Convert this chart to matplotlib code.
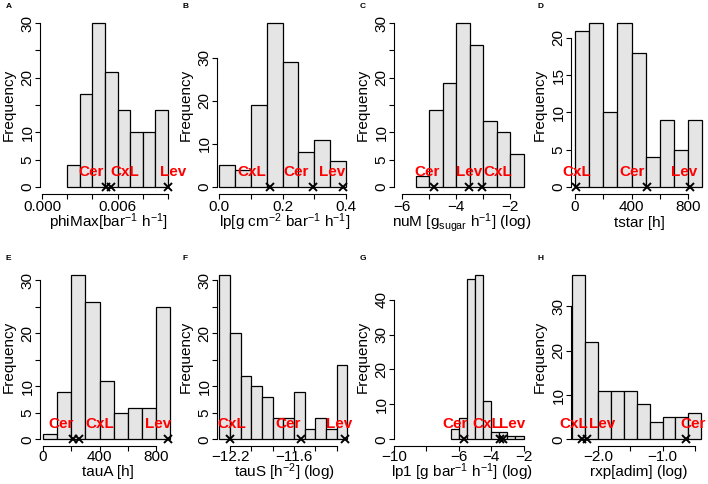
import numpy as np
import matplotlib
matplotlib.use('Agg')
import matplotlib.pyplot as plt

plt.rcParams['font.family'] = ['Liberation Sans', 'DejaVu Sans']
plt.rcParams['mathtext.fontset'] = 'custom'
plt.rcParams['mathtext.rm'] = 'Liberation Sans'
plt.rcParams['mathtext.it'] = 'Liberation Sans:italic'
plt.rcParams['mathtext.bf'] = 'Liberation Sans:bold'

site_names = ['Cer', 'CxL', 'Lev']

# A phiMax
phimax_breaks = [0.002, 0.003, 0.004, 0.005, 0.006, 0.007, 0.008, 0.009, 0.010]
phimax_counts = [4, 17, 30, 21, 14, 10, 10, 14]
phimax_sites = [0.0051, 0.0055, 0.0100]
phimax_ticks = [0.000, 0.002, 0.004, 0.006, 0.008, 0.010]
phimax_ticklabels = ['0.000', '', '', '0.006', '', '']

# B lp
lp_breaks = [0.0, 0.05, 0.10, 0.15, 0.20, 0.25, 0.30, 0.35, 0.40]
lp_counts = [5, 4, 19, 38, 29, 8, 11, 6]
lp_sites = [0.295, 0.16, 0.39]
lp_ticks = [0.0, 0.1, 0.2, 0.3, 0.4]
lp_ticklabels = ['0.0', '', '0.2', '', '0.4']

# C nuM
num_breaks = [-5.5, -5.0, -4.5, -4.0, -3.5, -3.0, -2.5, -2.0, -1.5]
num_counts = [2, 14, 19, 30, 26, 12, 10, 6]
num_sites = [-4.81, -3.04, -3.52]
num_ticks = [-6, -5, -4, -3, -2]
num_ticklabels = ['\u22126', '', '\u22124', '', '\u22122']

# D tstar
tstar_breaks = [0, 100, 200, 300, 400, 500, 600, 700, 800, 900]
tstar_counts = [21, 22, 10, 22, 18, 4, 9, 5, 9]
tstar_sites = [512, 10, 815]
tstar_ticks = [0, 200, 400, 600, 800]
tstar_ticklabels = ['0', '', '400', '', '800']

# E tauA
taua_breaks = [0, 100, 200, 300, 400, 500, 600, 700, 800, 900]
taua_counts = [1, 9, 31, 26, 11, 5, 6, 6, 25]
taua_sites = [213, 255, 885]
taua_ticks = [0, 200, 400, 600, 800]
taua_ticklabels = ['0', '', '400', '', '800']

# F tauS
taus_breaks = [-12.3, -12.2, -12.1, -12.0, -11.9, -11.8, -11.7, -11.6,
               -11.5, -11.4, -11.3, -11.2, -11.1]
taus_counts = [31, 20, 12, 10, 8, 4, 4, 9, 2, 4, 2, 14]
taus_sites = [-11.53, -12.2, -11.12]
taus_ticks = [-12.2, -12.0, -11.8, -11.6, -11.4, -11.2]
taus_ticklabels = ['\u221212.2', '', '', '\u221211.6', '', '']

# G lp1
lp1_breaks = [-6.5, -6.0, -5.5, -5.0, -4.5, -4.0, -3.5, -3.0, -2.5, -2.0]
lp1_counts = [3, 6, 46, 47, 11, 2, 2, 1, 1]
lp1_sites = [-5.68, -3.46, -3.27]
lp1_ticks = [-10, -8, -6, -4, -2]
lp1_ticklabels = ['\u221210', '', '\u22126', '\u22124', '\u22122']

# H rxp
rxp_breaks = [-2.4, -2.2, -2.0, -1.8, -1.6, -1.4, -1.2, -1.0, -0.8, -0.6, -0.4]
rxp_counts = [37, 22, 11, 11, 11, 8, 4, 5, 5, 6]
rxp_sites = [-0.64, -2.25, -2.17]
rxp_ticks = [-2.0, -1.5, -1.0, -0.5]
rxp_ticklabels = ['\u22122.0', '', '\u22121.0', '']

freq5 = [0, 5, 10, 15, 20, 25, 30]
freq5_labels = ['0', '5', '10', '', '20', '', '30']

panels = [
    ('A', phimax_breaks, phimax_counts, phimax_sites, phimax_ticks, phimax_ticklabels,
     r'phiMax[bar$^{-1}$ h$^{-1}$]', freq5, freq5_labels),
    ('B', lp_breaks, lp_counts, lp_sites, lp_ticks, lp_ticklabels,
     r'lp[g cm$^{-2}$ bar$^{-1}$ h$^{-1}$]', [0, 10, 20, 30], ['0', '10', '20', '30']),
    ('C', num_breaks, num_counts, num_sites, num_ticks, num_ticklabels,
     r'nuM [g$_{\mathrm{sugar}}$ h$^{-1}$] (log)', freq5, freq5_labels),
    ('D', tstar_breaks, tstar_counts, tstar_sites, tstar_ticks, tstar_ticklabels,
     'tstar [h]', [0, 5, 10, 15, 20], ['0', '5', '10', '15', '20']),
    ('E', taua_breaks, taua_counts, taua_sites, taua_ticks, taua_ticklabels,
     'tauA [h]', freq5, freq5_labels),
    ('F', taus_breaks, taus_counts, taus_sites, taus_ticks, taus_ticklabels,
     r'tauS [h$^{-2}$] (log)', freq5, freq5_labels),
    ('G', lp1_breaks, lp1_counts, lp1_sites, lp1_ticks, lp1_ticklabels,
     r'lp1 [g bar$^{-1}$ h$^{-1}$] (log)', [0, 10, 20, 30, 40], ['0', '10', '20', '30', '40']),
    ('H', rxp_breaks, rxp_counts, rxp_sites, rxp_ticks, rxp_ticklabels,
     'rxp[adim] (log)', [0, 10, 20, 30], ['0', '10', '20', '30']),
]

# layout: x limits and where the red site names sit
xlims = [(-0.00016, 0.01063), (-0.0063, 0.422), (-6.30, -1.26), (-28, 934),
         (-21, 941), (-12.322, -11.047), (-10.0, -1.6), (-2.42, -0.31)]
label_x = [(0.0039, 0.0066, 0.0104), (0.243, 0.104, 0.356), (-5.07, -2.44, -3.52),
           (405, 10, 770), (127, 400, 815), (-11.66, -12.18, -11.18),
           (-6.23, -4.26, -2.7), (-0.53, -2.37, -1.94)]

W, H = 708, 484
fig = plt.figure(figsize=(W / 100, H / 100), dpi=100)
row_box = [(16.5, 193.5), (268.5, 446.0)]
xlab_off = [29, 26]

for i, (letter, breaks, counts, sites, xt, xtl, xlabel, yt, ytl) in enumerate(panels):
    row, col = divmod(i, 4)
    top, bot = row_box[row]
    ax = fig.add_axes([(col * 177 + 40) / W, (H - bot) / H, 136 / W, (bot - top) / H])
    edges = np.array(breaks)
    ax.bar(edges[:-1], counts, width=np.diff(edges), align='edge',
           color='#e5e5e5', edgecolor='black', linewidth=0.9)
    ymax = max(counts)
    ax.set_ylim(-0.04 * ymax, 1.04 * ymax)
    ax.set_xlim(*xlims[i])
    for name, lx in zip(site_names, label_x[i]):
        ax.annotate(name, (lx, 0), xytext=(0, 11), textcoords='offset points',
                    ha='center', va='center', color='red', fontweight='bold',
                    fontsize=11, annotation_clip=False)
    ax.plot(sites, [0] * len(sites), 'x', color='black', ms=6, mew=1.4, clip_on=False)

    for s in ['top', 'right']:
        ax.spines[s].set_visible(False)
    ax.spines['left'].set_bounds(yt[0], yt[-1])
    ax.spines['bottom'].set_bounds(xt[0], xt[-1])
    for s in ['left', 'bottom']:
        ax.spines[s].set_linewidth(0.8)
    ax.set_xticks(xt)
    ax.set_xticklabels(xtl)
    ax.set_yticks(yt)
    ax.set_yticklabels(ytl, rotation=90, va='center')
    ax.tick_params(axis='both', length=3.5, width=0.8, labelsize=11)
    ax.tick_params(axis='y', pad=0.5)
    ax.tick_params(axis='x', pad=1.0 if row == 0 else -0.8)

    ax.set_ylabel('Frequency', fontsize=11, va='center')
    ax.yaxis.set_label_coords(-31 / 136, 0.5)
    ax.set_xlabel(xlabel, fontsize=11, va='center')
    ax.xaxis.set_label_coords(0.5, -xlab_off[row] / (bot - top))

    fig.text((col * 177 + 6) / W, 1 - ((7 if row == 0 else 258) / H), letter,
             fontsize=6, fontweight='bold', va='center', ha='left')

fig.savefig('out.png', dpi=100)
